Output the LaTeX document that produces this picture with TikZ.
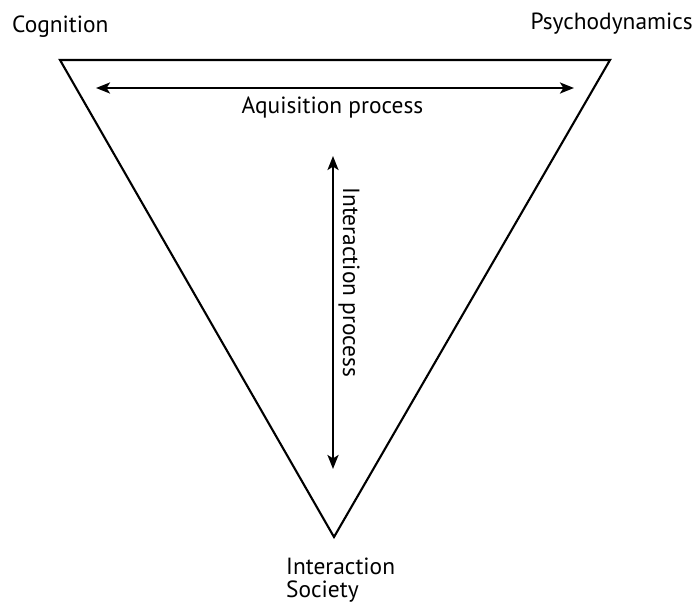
\documentclass[tikz,border=0pt]{standalone}
\usepackage{fontspec}
\setmainfont{PT Sans}
\usetikzlibrary{arrows.meta}
\tikzset{
  lbl/.style={inner sep=0pt, font=\fontsize{23.4}{25}\selectfont},
  tri/.style={line width=2.1pt, line join=miter},
  biarrow/.style={line width=2.6pt, {Stealth[length=14pt,width=11pt,inset=3.5pt]}-{Stealth[length=14pt,width=11pt,inset=3.5pt]}}
}
\begin{document}
\begin{tikzpicture}[x=1pt,y=-1pt]
\useasboundingbox (0,0) rectangle (697,605);
\coordinate (tl) at (60,60);
\coordinate (tr) at (610,60);
\coordinate (bt) at (334,537);
\draw[tri] (tl) -- (tr) -- (bt) -- cycle;
\coordinate (aL) at (96,88);
\coordinate (aR) at (574,88);
\draw[biarrow] (aL) -- (aR);
\coordinate (vT) at (333,156);
\coordinate (vB) at (333,469);
\draw[biarrow] (vT) -- (vB);
\node[lbl, anchor=base west] (cog) at (12,32) {Cognition};
\node[lbl, anchor=base east] (psy) at (693,30) {Psychodynamics};
\node[lbl, anchor=base] (aq) at (332.5,113) {Aquisition process};
\node[lbl, anchor=base, rotate=-90] (ip) at (343,282.5) {Interaction process};
\node[lbl, anchor=base west] (int) at (286,574) {Interaction};
\node[lbl, anchor=base west] (soc) at (286,597) {Society};
\end{tikzpicture}
\end{document}
